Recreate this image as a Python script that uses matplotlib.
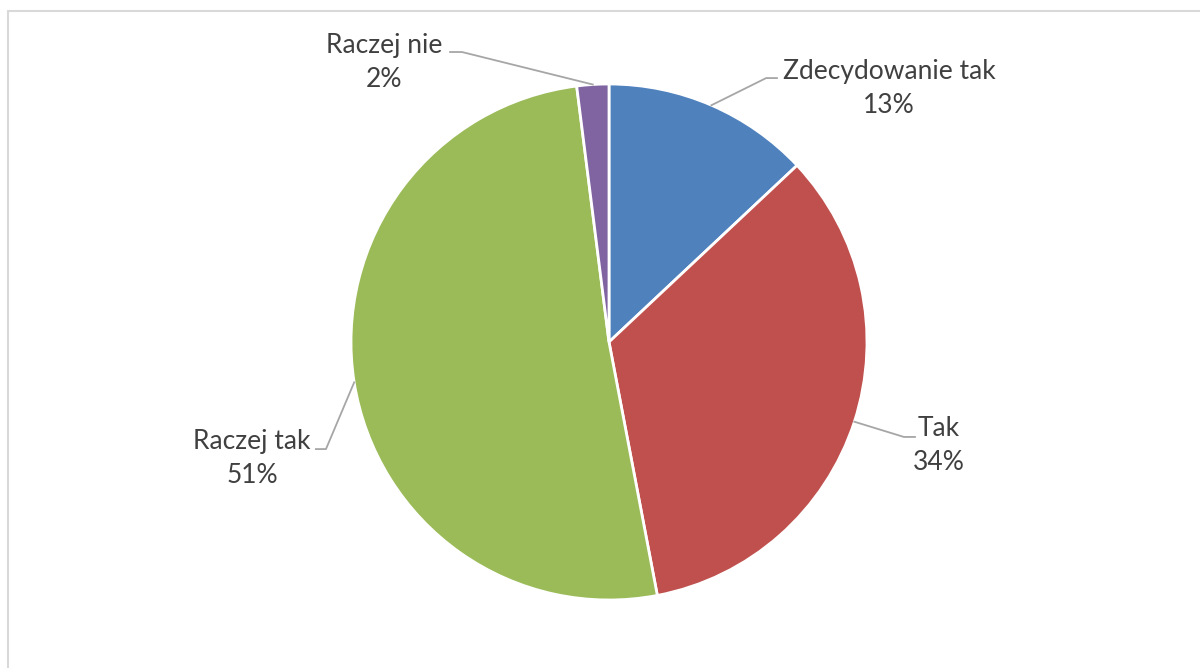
import numpy as np
import matplotlib.pyplot as plt
from matplotlib.patches import Rectangle

# data
labels = ["Zdecydowanie tak", "Tak", "Raczej tak", "Raczej nie"]
values = [13, 34, 51, 2]
colors = ["#4F81BD", "#C0504D", "#9BBB59", "#8064A2"]

# label layout (data coords, radius = 1): text centre, elbow point, end of horizontal
text_pos = [(1.085, 0.984), (1.279, -0.403), (-1.384, -0.453), (-0.872, 1.085)]
elbows = [(0.609, 1.023), (1.143, -0.368), (-1.097, -0.415), (-0.570, 1.124)]
line_end_x = [0.651, 1.186, -1.136, -0.616]

plt.rcParams['font.family'] = ['Lato', 'DejaVu Sans']

fig = plt.figure(figsize=(12, 6.68), dpi=100)
# light frame of the chart area
fig.patches.append(Rectangle((8/1200, -0.1), 1.2, (668-11)/668 + 0.1, transform=fig.transFigure,
                             fill=False, edgecolor="#D9D9D9", linewidth=1.5))

ax = fig.add_axes([(609-258)/1200, (668-600)/668, 516/1200, 516/668])
wedges, _ = ax.pie(values, colors=colors, startangle=90, counterclock=False, radius=1,
                   wedgeprops=dict(edgecolor="white", linewidth=2))
ax.set_xlim(-1, 1)
ax.set_ylim(-1, 1)
ax.set_aspect("equal")
ax.axis("off")

total = sum(values)
for w, lab, v, tp, el, ex in zip(wedges, labels, values, text_pos, elbows, line_end_x):
    ang = np.deg2rad((w.theta1 + w.theta2) / 2)
    x0, y0 = np.cos(ang), np.sin(ang)
    ax.plot([x0, el[0], ex], [y0, el[1], el[1]], color="#A6A6A6", lw=1.3, clip_on=False)
    pct = str(round(100 * v / total)) + "%"
    ax.text(tp[0], tp[1], lab + "\n" + pct, ha="center", va="center", fontsize=19,
            color="#404040", linespacing=1.45)

fig.savefig("out.png", dpi=100)
